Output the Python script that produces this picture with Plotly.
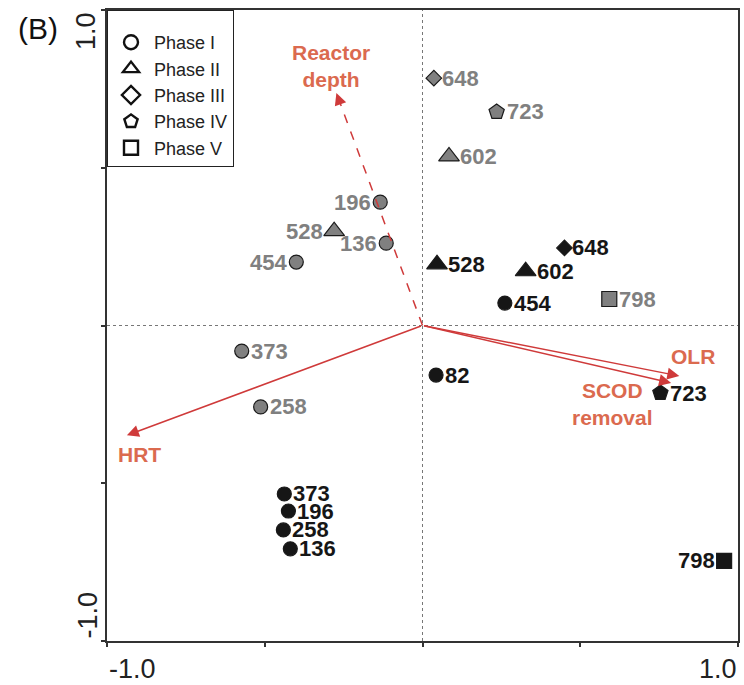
import plotly.graph_objects as go

# Sample scores, grey series
grey_labels = ["648", "723", "602", "196", "528", "136", "454", "798", "373", "258"]
grey_phase = ["III", "IV", "II", "I", "II", "I", "I", "V", "I", "I"]
grey_x = [0.036, 0.235, 0.084, -0.134, -0.280, -0.115, -0.400, 0.592, -0.573, -0.513]
grey_y = [0.784, 0.677, 0.536, 0.391, 0.299, 0.261, 0.201, 0.084, -0.081, -0.258]
grey_side = ["right", "right", "right", "left", "left", "left", "left", "right", "right", "right"]

# Sample scores, black series
black_labels = ["528", "602", "648", "454", "82", "723", "798", "373", "196", "258", "136"]
black_phase = ["II", "II", "III", "I", "I", "IV", "V", "I", "I", "I", "I"]
black_x = [0.046, 0.327, 0.450, 0.261, 0.043, 0.754, 0.956, -0.438, -0.425, -0.441, -0.419]
black_y = [0.194, 0.172, 0.246, 0.071, -0.157, -0.214, -0.746, -0.534, -0.588, -0.648, -0.708]
black_side = ["right", "right", "right", "right", "right", "right", "left", "right", "right", "right", "right"]

# Environmental variable vectors
env_names = ["Reactor<br>depth", "OLR", "SCOD<br>removal", "HRT"]
env_x = [-0.273, 0.814, 0.788, -0.937]
env_y = [0.737, -0.160, -0.182, -0.348]

phases = ["I", "II", "III", "IV", "V"]
phase_names = ["Phase I", "Phase II", "Phase III", "Phase IV", "Phase V"]

# styles
SYMBOL = {"I": "circle", "II": "triangle-up", "III": "diamond", "IV": "pentagon", "V": "square"}
SIZE = {"I": 14, "II": 18, "III": 12, "IV": 16, "V": 15}
GREY = "#808080"
BLACK = "#161616"
ARROW = "#cf3a3a"
ENV_TEXT = "#db6a4f"
FONT = "Liberation Sans, Arial, sans-serif"

fig = go.Figure()

# zero reference lines
fig.add_shape(type="line", x0=0, x1=0, y0=-1, y1=1, xref="x", yref="y",
              line=dict(color="#777777", width=1, dash="dot"), layer="below")
fig.add_shape(type="line", x0=-1, x1=1, y0=0, y1=0, xref="x", yref="y",
              line=dict(color="#777777", width=1, dash="dot"), layer="below")

# environmental vectors
for name, vx, vy in zip(env_names, env_x, env_y):
    if name.startswith("Reactor"):
        fig.add_shape(type="line", x0=0, y0=0, x1=vx * 0.96, y1=vy * 0.96,
                      xref="x", yref="y", line=dict(color=ARROW, width=1.5, dash="dash"))
        ax, ay = vx * 0.97, vy * 0.97
    else:
        ax, ay = 0, 0
    fig.add_annotation(x=vx, y=vy, ax=ax, ay=ay, xref="x", yref="y", axref="x", ayref="y",
                       text="", showarrow=True, arrowhead=2, arrowsize=1.6,
                       arrowwidth=1.5, arrowcolor=ARROW, standoff=0)

label_shift = {"Reactor<br>depth": (-5, 27), "OLR": (14, 19),
               "SCOD<br>removal": (-59, -21), "HRT": (13, -19)}
for name, vx, vy in zip(env_names, env_x, env_y):
    dx, dy = label_shift[name]
    fig.add_annotation(x=vx, y=vy, xref="x", yref="y", text=name, showarrow=False,
                       xshift=dx, yshift=dy,
                       font=dict(family=FONT, size=21, color=ENV_TEXT, weight="bold"))


def add_series(xs, ys, labels, phase, side, fill, text_color):
    fig.add_trace(go.Scatter(
        x=xs, y=ys, mode="markers", text=labels,
        marker=dict(symbol=[SYMBOL[p] for p in phase], size=[SIZE[p] for p in phase],
                    color=fill, opacity=1, line=dict(color="#1a1a1a", width=1.2)),
        showlegend=False, cliponaxis=False, hoverinfo="text"))
    # sample labels next to each marker
    for x, y, lab, p, s in zip(xs, ys, labels, phase, side):
        gap = SIZE[p] / 2 + 1
        fig.add_annotation(x=x, y=y, xref="x", yref="y", text=lab, showarrow=False,
                           xanchor="left" if s == "right" else "right", yanchor="middle",
                           xshift=gap if s == "right" else -gap, yshift=0,
                           borderpad=0,
                           font=dict(family=FONT, size=22, color=text_color, weight="bold"))


add_series(grey_x, grey_y, grey_labels, grey_phase, grey_side, GREY, GREY)
add_series(black_x, black_y, black_labels, black_phase, black_side, BLACK, BLACK)

# legend entries for the phase symbols
for p, pname in zip(phases, phase_names):
    fig.add_trace(go.Scatter(
        x=[None], y=[None], mode="markers", name=pname,
        marker=dict(symbol=SYMBOL[p] + "-open", size=14, color="#111111",
                    line=dict(color="#111111", width=2.4))))

axis_common = dict(range=[-1, 1], tickvals=[-1, -0.5, 0, 0.5, 1], showticklabels=False,
                   ticks="outside", ticklen=4, tickwidth=1.5, tickcolor="#333333",
                   showline=True, linecolor="#333333", linewidth=1.8, mirror=True,
                   showgrid=False, zeroline=False, fixedrange=True)

fig.update_layout(
    width=744, height=685,
    margin=dict(l=107, r=4, t=10, b=44),
    plot_bgcolor="white", paper_bgcolor="white",
    xaxis=axis_common, yaxis=axis_common,
    font=dict(family=FONT, color="#222222"),
    legend=dict(x=0, y=1, xanchor="left", yanchor="top",
                bgcolor="white", bordercolor="#222222", borderwidth=1,
                font=dict(family=FONT, size=18, color="#222222"),
                title=dict(text="\u00a0", font=dict(size=10)),
                itemwidth=36, tracegroupgap=0),
)

# axis end labels
tick_font = dict(family=FONT, size=27, color="#222222")
fig.add_annotation(x=-1, y=0, xref="x", yref="paper", text="-1.0", showarrow=False,
                   xanchor="left", yanchor="middle", xshift=0, yshift=-28, font=tick_font)
fig.add_annotation(x=1, y=0, xref="x", yref="paper", text="1.0", showarrow=False,
                   xanchor="right", yanchor="middle", xshift=1, yshift=-28, font=tick_font)
fig.add_annotation(x=0, y=1, xref="paper", yref="y", text="1.0", showarrow=False,
                   textangle=-90, xanchor="center", yanchor="top", xshift=-21, yshift=0,
                   font=tick_font)
fig.add_annotation(x=0, y=-1, xref="paper", yref="y", text="-1.0", showarrow=False,
                   textangle=-90, xanchor="center", yanchor="bottom", xshift=-20, yshift=0,
                   font=tick_font)

# panel letter
fig.add_annotation(x=0, y=1, xref="paper", yref="paper", text="(B)", showarrow=False,
                   xanchor="center", yanchor="middle", xshift=-69, yshift=-18,
                   font=dict(family=FONT, size=30, color="#111111"))

fig.write_html("out.html")
